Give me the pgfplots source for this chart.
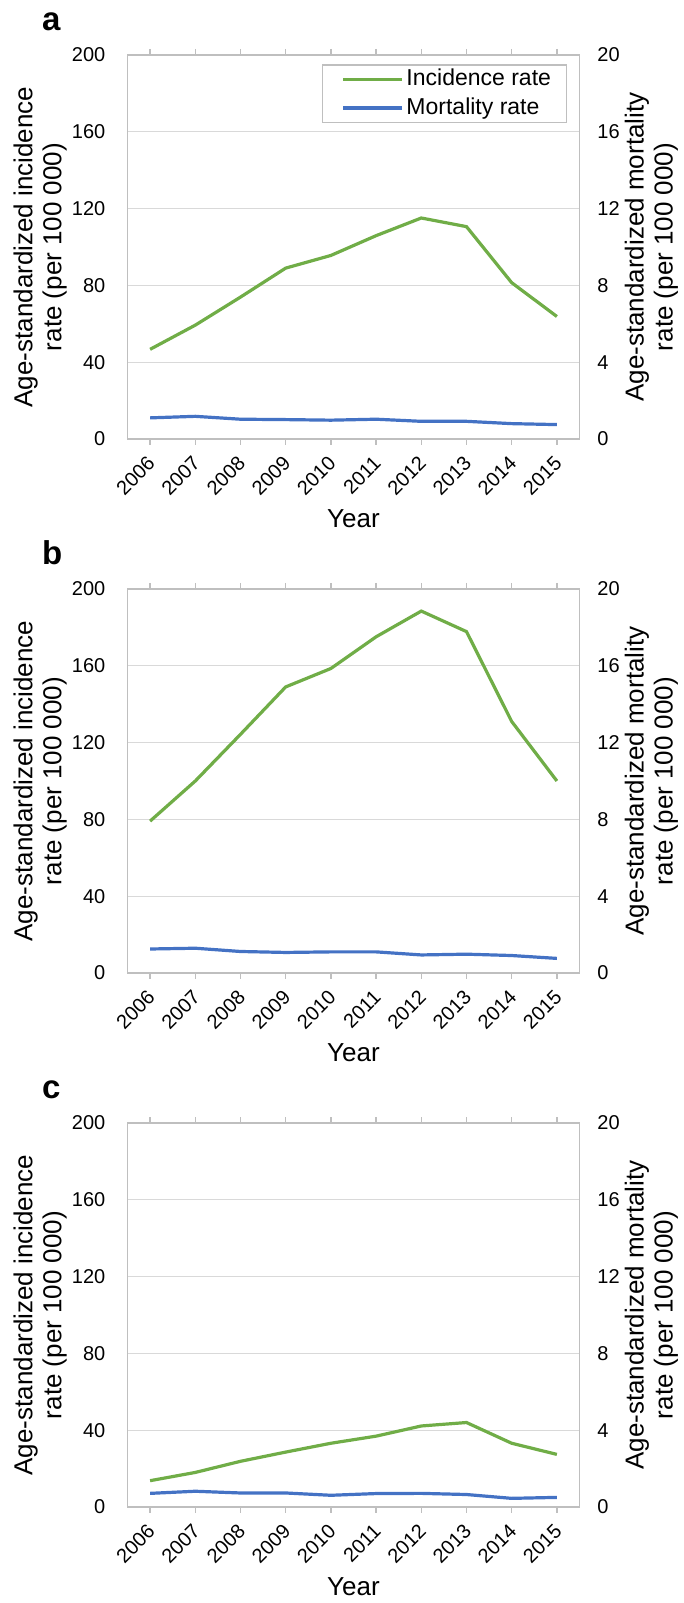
\documentclass[border=0pt]{standalone}
\usepackage{fontspec}
\setmainfont{Liberation Sans}
\usepackage{pgfplots}
\pgfplotsset{compat=1.18}
\definecolor{incg}{HTML}{70AD47}
\definecolor{mortb}{HTML}{4472C4}
\definecolor{gridc}{HTML}{D9D9D9}
\definecolor{framec}{HTML}{BFBFBF}

\newcommand{\labfont}{\fontsize{13}{14.5}\selectfont}
\pgfplotsset{
 common/.style={
  scale only axis, width=226pt, height=192pt,
  xmin=-0.5, xmax=9.5, ymin=0,
  tick label style={font=\fontsize{10}{12}\selectfont},
  /pgf/number format/assume math mode=true,
  yticklabel style={inner sep=0pt},
  clip=false,
 },
 leftax/.style={
  common, ymax=200,
  xtick={0,1,2,3,4,5,6,7,8,9},
  xticklabels={2006,2007,2008,2009,2010,2011,2012,2013,2014,2015},
  ytick={0,40,80,120,160,200},
  ymajorgrids, grid style={gridc, line width=0.6pt},
  axis line style={framec, line width=0.7pt},
  tick align=outside, major tick length=3pt,
  xtick style={framec, line width=0.7pt},
  ytick style={draw=none},
  xticklabel style={rotate=45, anchor=east, inner sep=0pt, xshift=1pt},
  xticklabel shift=8pt,
  yticklabel shift=7.9pt,
  xlabel={Year},
  every axis x label/.style={at={(rel axis cs:0.5,0)}, anchor=center, yshift=-40pt, font=\labfont},
  ylabel={Age-standardized incidence\\rate (per 100 000)},
  every axis y label/.style={at={(rel axis cs:-0.193,0.5)}, rotate=90, anchor=center, align=center, font=\labfont},
 },
 rightax/.style={
  common, ymax=20,
  ytick={0,4,8,12,16,20},
  axis y line*=right, hide x axis,
  axis line style={draw=none},
  ytick style={draw=none},
  yticklabel shift=8.75pt,
  ylabel={Age-standardized mortality\\rate (per 100 000)},
  every axis y label/.style={at={(rel axis cs:1.159,0.5)}, rotate=90, anchor=center, align=center, font=\labfont},
 },
 incline/.style={incg, line width=1.6pt},
 mortline/.style={mortb, line width=1.6pt},
}

\begin{document}
\begin{tikzpicture}
\useasboundingbox (0,0) rectangle (342pt,801.5pt);

% ---------- panel a ----------
\begin{axis}[leftax, at={(63.75pt,582pt)}, anchor=south west]
\addplot[incline] coordinates {(0,46.7) (1,59.3) (2,73.9) (3,89.0) (4,95.6) (5,105.9) (6,115.1) (7,110.6) (8,81.4) (9,63.8)};
\node[anchor=base west, font=\fontsize{16.5}{18}\selectfont\bfseries] at (rel axis cs:-0.2046,1.0638) {a};
\end{axis}
\begin{axis}[rightax, at={(63.75pt,582pt)}, anchor=south west,
  legend style={at={(0.9723,0.9753)}, anchor=north east, draw=framec, line width=0.7pt, fill=white,
    font=\fontsize{11.5}{13}\selectfont, inner xsep=6.25pt, inner ysep=0.2pt,
    nodes={inner xsep=1.4pt, inner ysep=1.475pt, text height=8.6pt, text depth=2.6pt}},
  legend cell align=left,
  legend image code/.code={\path (0pt,0pt); \draw[#1] (3.5pt,0pt) -- (32.85pt,0pt);}]
\addlegendimage{incline}
\addlegendentry{Incidence rate}
\addplot[mortline] coordinates {(0,1.10) (1,1.18) (2,1.03) (3,1.01) (4,0.98) (5,1.03) (6,0.92) (7,0.92) (8,0.80) (9,0.75)};
\addlegendentry{Mortality rate}
\end{axis}

% ---------- panel b ----------
\begin{axis}[leftax, at={(63.75pt,315pt)}, anchor=south west]
\addplot[incline] coordinates {(0,79.1) (1,100.0) (2,124.3) (3,149.0) (4,158.6) (5,175.1) (6,188.5) (7,177.8) (8,131.0) (9,100.0)};
\node[anchor=base west, font=\fontsize{16.5}{18}\selectfont\bfseries] at (rel axis cs:-0.2046,1.0638) {b};
\end{axis}
\begin{axis}[rightax, at={(63.75pt,315pt)}, anchor=south west]
\addplot[mortline] coordinates {(0,1.25) (1,1.29) (2,1.12) (3,1.07) (4,1.10) (5,1.10) (6,0.94) (7,0.98) (8,0.91) (9,0.76)};
\end{axis}

% ---------- panel c ----------
\begin{axis}[leftax, at={(63.75pt,48pt)}, anchor=south west]
\addplot[incline] coordinates {(0,13.7) (1,18.0) (2,23.8) (3,28.6) (4,33.2) (5,36.9) (6,42.2) (7,44.0) (8,33.2) (9,27.4)};
\node[anchor=base west, font=\fontsize{16.5}{18}\selectfont\bfseries] at (rel axis cs:-0.2046,1.0638) {c};
\end{axis}
\begin{axis}[rightax, at={(63.75pt,48pt)}, anchor=south west]
\addplot[mortline] coordinates {(0,0.71) (1,0.82) (2,0.73) (3,0.73) (4,0.61) (5,0.70) (6,0.71) (7,0.65) (8,0.45) (9,0.50)};
\end{axis}
\end{tikzpicture}
\end{document}
